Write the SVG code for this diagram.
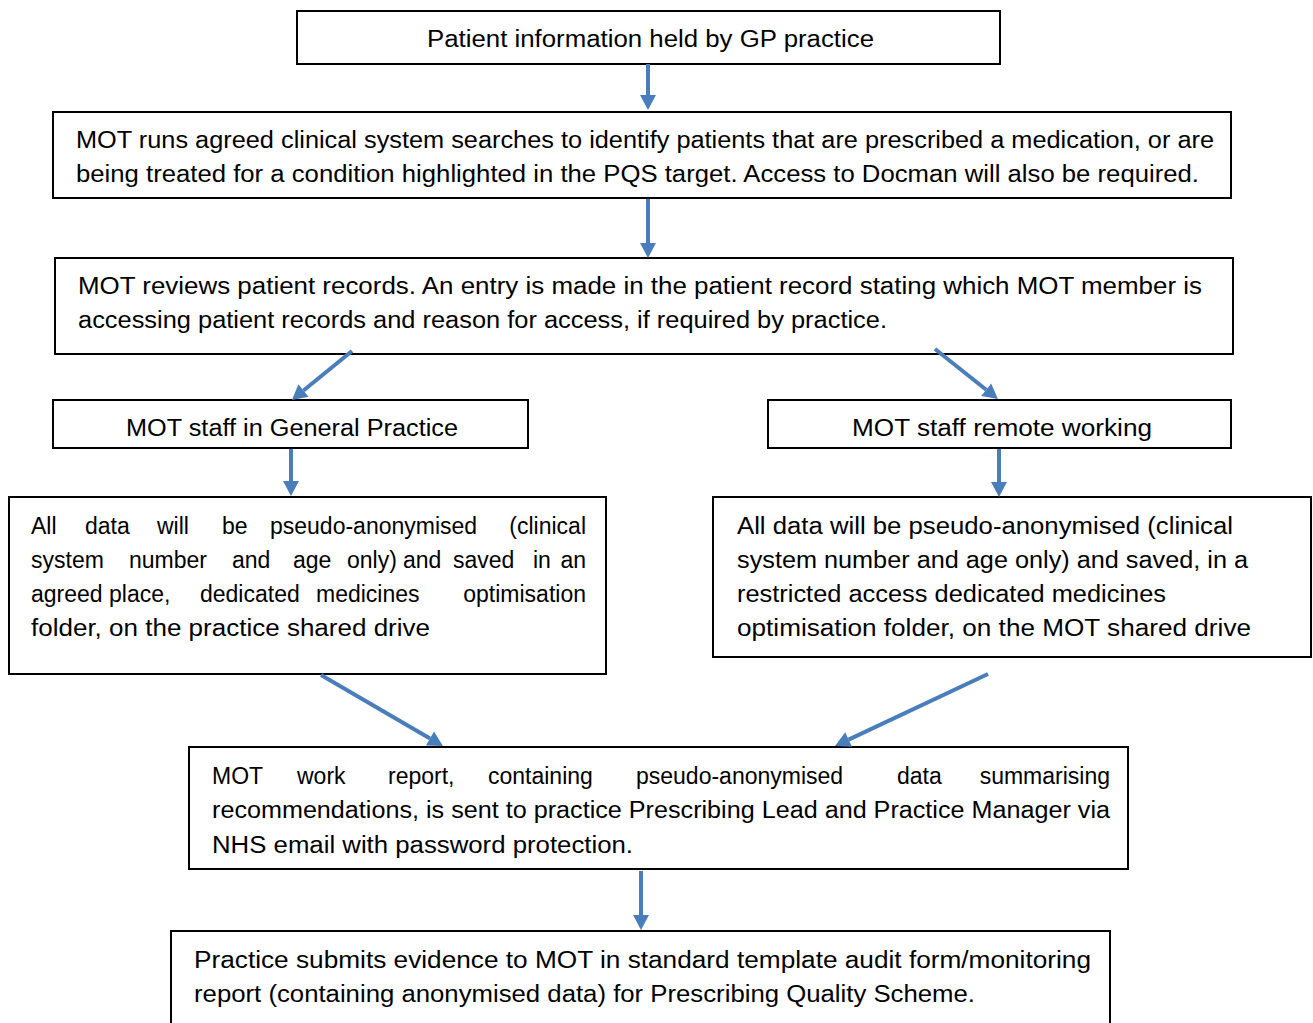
<svg xmlns="http://www.w3.org/2000/svg" width="1313" height="1023" viewBox="0 0 1313 1023">
<style>
.box{fill:#fff;stroke:#000;stroke-width:2}
.t{font-family:"Liberation Sans",Arial,sans-serif;font-size:23px;fill:#000}
.e{text-anchor:end}
.arr{stroke:#4a7ebb;stroke-width:4;fill:none;marker-end:url(#ah)}
</style>
<defs>
<marker id="ah" markerUnits="userSpaceOnUse" markerWidth="16" markerHeight="18" refX="0" refY="0" orient="auto" overflow="visible">
<path d="M0,-8 L15,0 L0,8 z" fill="#4a7ebb"/>
</marker>
</defs>
<rect width="1313" height="1023" fill="#fff"/>
<g id="n1">
<rect class="box" x="297" y="11" width="703" height="53"/>
<text class="t" x="427" y="47" textLength="447" lengthAdjust="spacingAndGlyphs">Patient information held by GP practice</text>
</g>
<g id="n2">
<rect class="box" x="53" y="112" width="1178" height="86"/>
<text class="t" x="76" y="148" textLength="1138" lengthAdjust="spacingAndGlyphs">MOT runs agreed clinical system searches to identify patients that are prescribed a medication, or are</text>
<text class="t" x="76" y="182" textLength="1123" lengthAdjust="spacingAndGlyphs">being treated for a condition highlighted in the PQS target. Access to Docman will also be required.</text>
</g>
<g id="n3">
<rect class="box" x="55" y="258" width="1178" height="96"/>
<text class="t" x="78" y="294" textLength="1124" lengthAdjust="spacingAndGlyphs">MOT reviews patient records. An entry is made in the patient record stating which MOT member is</text>
<text class="t" x="78" y="328" textLength="809" lengthAdjust="spacingAndGlyphs">accessing patient records and reason for access, if required by practice.</text>
</g>
<g id="n4">
<rect class="box" x="53" y="400" width="475" height="48"/>
<text class="t" x="126" y="436" textLength="332" lengthAdjust="spacingAndGlyphs">MOT staff in General Practice</text>
</g>
<g id="n5">
<rect class="box" x="768" y="400" width="463" height="48"/>
<text class="t" x="852" y="436" textLength="300" lengthAdjust="spacingAndGlyphs">MOT staff remote working</text>
</g>
<g id="n6">
<rect class="box" x="9" y="497" width="597" height="177"/>
<text class="t" y="534"><tspan x="31">All</tspan><tspan x="85">data</tspan><tspan x="157">will</tspan><tspan x="222">be</tspan><tspan x="270">pseudo-anonymised</tspan></text>
<text class="t e" x="586" y="534">(clinical</text>
<text class="t" y="568"><tspan x="31">system</tspan><tspan x="129">number</tspan><tspan x="232">and</tspan><tspan x="293">age</tspan><tspan x="347">only)</tspan><tspan x="403">and</tspan><tspan x="453">saved</tspan><tspan x="533">in</tspan></text>
<text class="t e" x="586" y="568">an</text>
<text class="t" y="602"><tspan x="31">agreed place,</tspan><tspan x="200">dedicated</tspan><tspan x="316">medicines</tspan></text>
<text class="t e" x="586" y="602">optimisation</text>
<text class="t" x="31" y="636" textLength="399" lengthAdjust="spacingAndGlyphs">folder, on the practice shared drive</text>
</g>
<g id="n7">
<rect class="box" x="713" y="497" width="598" height="160"/>
<text class="t" x="737" y="534" textLength="496" lengthAdjust="spacingAndGlyphs">All data will be pseudo-anonymised (clinical</text>
<text class="t" x="737" y="568" textLength="511" lengthAdjust="spacingAndGlyphs">system number and age only) and saved, in a</text>
<text class="t" x="737" y="602" textLength="429" lengthAdjust="spacingAndGlyphs">restricted access dedicated medicines</text>
<text class="t" x="737" y="636" textLength="514" lengthAdjust="spacingAndGlyphs">optimisation folder, on the MOT shared drive</text>
</g>
<g id="n8">
<rect class="box" x="189" y="747" width="939" height="122"/>
<text class="t" y="784"><tspan x="212">MOT</tspan><tspan x="297">work</tspan><tspan x="388">report,</tspan><tspan x="488">containing</tspan><tspan x="636">pseudo-anonymised</tspan><tspan x="897">data</tspan></text>
<text class="t e" x="1110" y="784">summarising</text>
<text class="t" x="212" y="818" textLength="898" lengthAdjust="spacingAndGlyphs">recommendations, is sent to practice Prescribing Lead and Practice Manager via</text>
<text class="t" x="212" y="853" textLength="421" lengthAdjust="spacingAndGlyphs">NHS email with password protection.</text>
</g>
<g id="n9">
<rect class="box" x="171" y="931" width="939" height="110"/>
<text class="t" x="194" y="968" textLength="897" lengthAdjust="spacingAndGlyphs">Practice submits evidence to MOT in standard template audit form/monitoring</text>
<text class="t" x="194" y="1002" textLength="781" lengthAdjust="spacingAndGlyphs">report (containing anonymised data) for Prescribing Quality Scheme.</text>
</g>
<g id="connectors">
<path class="arr" d="M648,64 L648,95"/>
<path class="arr" d="M648,199 L648,243"/>
<path class="arr" d="M352,351 L303.5,390.5"/>
<path class="arr" d="M935,349 L986.2,389.7"/>
<path class="arr" d="M291,449 L291,481"/>
<path class="arr" d="M999,449 L999,482"/>
<path class="arr" d="M321,675 L430,738.5"/>
<path class="arr" d="M988,674 L848.6,739.6"/>
<path class="arr" d="M641,871 L641,915"/>
</g>
</svg>
